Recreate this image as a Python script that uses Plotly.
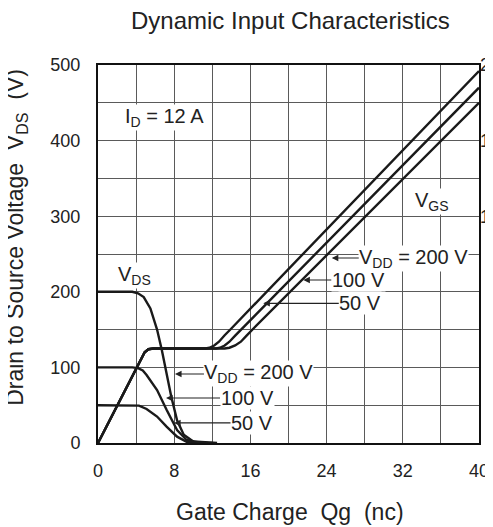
import plotly.graph_objects as go

# ---------------- data ----------------
# Gate charge axis (nC)
x_ticks = [0, 8, 16, 24, 32, 40]
# VDS axis (V)
y_ticks = [0, 100, 200, 300, 400, 500]
# VGS axis (V) - right side (only partly visible in the reference)
y2_ticks = [12, 16, 20]
y2_ticktext = ["12", "16", "20"]

# VDS curves (left axis, V)
q_vds_200 = [0, 3.6, 4.2, 4.8, 5.5, 6.2, 6.7, 7.2, 7.7, 8.3, 9.0, 10.0, 11.4, 12.5]
v_vds_200 = [200, 200, 198, 193, 178, 150, 123, 92, 61, 30, 11, 2, 0.4, 0]
q_vds_100 = [0, 3.6, 4.2, 4.7, 5.1, 6.2, 7.2, 8.3, 9.3, 10.7, 12.0]
v_vds_100 = [100, 100, 99, 96, 90, 70, 44, 17, 4, 0.5, 0]
q_vds_50 = [0, 3.7, 4.3, 5.1, 6.2, 7.2, 8.3, 9.3, 10.4, 11.5]
v_vds_50 = [50, 50, 49.5, 45, 35, 21.6, 8.4, 1.7, 0.4, 0]

# VGS curves (right axis, V)
q_vgs_50 = [0, 4.5, 4.9, 5.3, 5.8, 11.3, 11.7, 12.2, 12.7, 13.3, 14.0, 40]
v_vgs_50 = [0, 4.43, 4.8, 4.96, 5.0, 5.0, 5.04, 5.16, 5.36, 5.70, 6.06, 19.68]
q_vgs_100 = [0, 4.5, 4.9, 5.3, 5.8, 12.4, 12.8, 13.3, 13.8, 14.4, 15.1, 40]
v_vgs_100 = [0, 4.43, 4.8, 4.96, 5.0, 5.0, 5.04, 5.16, 5.36, 5.68, 6.04, 18.8]
q_vgs_200 = [0, 4.5, 4.9, 5.3, 5.8, 13.3, 13.8, 14.4, 15.0, 15.6, 16.4, 40]
v_vgs_200 = [0, 4.43, 4.8, 4.96, 5.0, 5.0, 5.04, 5.16, 5.36, 5.68, 6.10, 18.0]

FONT = "Liberation Sans, Arial, Helvetica, sans-serif"
TXT = "#222222"
LINE = "#1a1a1a"

fig = go.Figure()
for q, v in [(q_vds_200, v_vds_200), (q_vds_100, v_vds_100), (q_vds_50, v_vds_50)]:
    fig.add_trace(go.Scatter(x=q, y=v, mode="lines", yaxis="y",
                             line=dict(color=LINE, width=2.4),
                             hoverinfo="skip", showlegend=False))
for q, v in [(q_vgs_50, v_vgs_50), (q_vgs_100, v_vgs_100), (q_vgs_200, v_vgs_200)]:
    fig.add_trace(go.Scatter(x=q, y=v, mode="lines", yaxis="y2",
                             line=dict(color=LINE, width=2.4),
                             hoverinfo="skip", showlegend=False))

GRID = "#5a5a5a"
axis_common = dict(showgrid=True, gridcolor=GRID, gridwidth=1,
                   showline=True, mirror=True, linecolor="#111111", linewidth=2,
                   ticks="", zeroline=False, automargin=False,
                   tickfont=dict(family=FONT, size=18, color=TXT))

# page adds ~8px body margin; size figure so the plot area lands where the reference has it
fig.update_layout(
    width=485, height=519,
    margin=dict(l=90, r=14, t=57, b=84, autoexpand=False),
    paper_bgcolor="white", plot_bgcolor="white",
    font=dict(family=FONT, color=TXT),
    xaxis=dict(range=[0, 40], tickmode="array", tickvals=x_ticks,
               minor=dict(dtick=4, showgrid=True, gridcolor=GRID, gridwidth=1, ticks=""),
               ticklabelstandoff=10, **axis_common),
    yaxis=dict(range=[0, 500], tickmode="array", tickvals=y_ticks,
               minor=dict(dtick=50, showgrid=True, gridcolor=GRID, gridwidth=1, ticks=""),
               ticklabelstandoff=12, **axis_common),
    yaxis2=dict(range=[0, 20], overlaying="y", side="right", tickmode="array",
                tickvals=y2_ticks, ticktext=y2_ticktext, showgrid=False,
                showline=False, zeroline=False, ticks="", ticklabelstandoff=0,
                automargin=False,
                tickfont=dict(family=FONT, size=18, color=TXT)),
)

ann = []
# Titles
ann.append(dict(text="Dynamic Input Characteristics", xref="paper", yref="paper",
                x=0.504, y=1.119, showarrow=False, font=dict(size=24, color=TXT),
                xanchor="center", yanchor="middle"))
ann.append(dict(text="Gate Charge\u00a0\u00a0Qg\u00a0\u00a0(nc)", xref="paper", yref="paper",
                x=0.504, y=-0.1825, showarrow=False, font=dict(size=23, color=TXT),
                xanchor="center", yanchor="middle"))
ann.append(dict(text="Drain to Source Voltage\u00a0\u00a0V<sub>DS</sub>\u00a0\u00a0(V)",
                xref="paper", yref="paper", x=-0.213, y=0.545, textangle=-90,
                showarrow=False, font=dict(size=23, color=TXT),
                xanchor="center", yanchor="middle"))
# In-plot labels
lab = dict(showarrow=False, bgcolor="white", borderpad=0, font=dict(size=20, color=TXT))
ann.append(dict(text="I<sub>D</sub> = 12 A", x=7.0, y=430, **lab))
ann.append(dict(text="V<sub>DS</sub>", x=3.83, y=222, **lab))
ann.append(dict(text="V<sub>GS</sub>", x=35.1, y=320, **lab))

arr = dict(showarrow=True, arrowhead=2, arrowsize=1.1, arrowwidth=1.2, arrowcolor=TXT,
           bgcolor="white", borderpad=0, font=dict(size=20, color=TXT), ay=0)
# VDS family labels
ann.append(dict(text="V<sub>DD</sub> = 200 V", x=8.08, y=91.3, ax=84, **arr))
ann.append(dict(text="100 V", x=7.14, y=59.5, ax=81, **arr))
ann.append(dict(text="50 V", x=7.98, y=26.5, ax=78, **arr))
# VGS family labels
ann.append(dict(text="V<sub>DD</sub> = 200 V", x=24.54, y=244.7, ax=82, **arr))
ann.append(dict(text="100 V", x=21.55, y=215.6, ax=55, **arr))
ann.append(dict(text="50 V", x=17.35, y=184.8, ax=97, **arr))

fig.update_layout(annotations=ann)
fig.write_html("out.html")
